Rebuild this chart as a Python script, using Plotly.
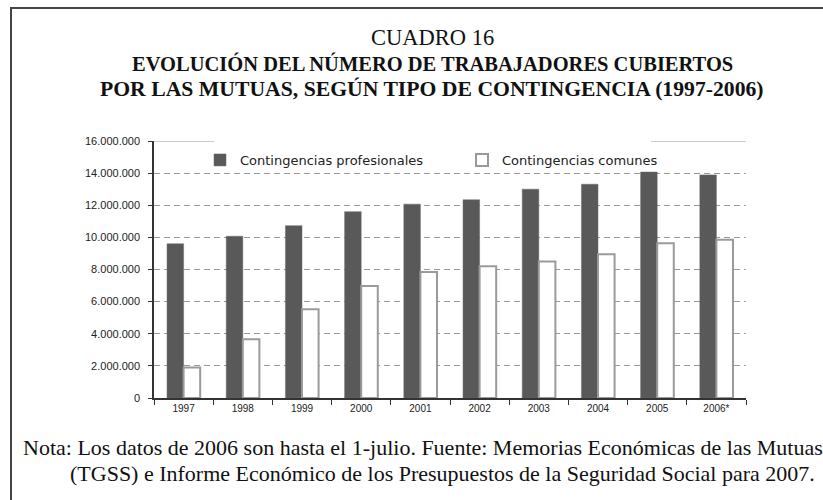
import plotly.graph_objects as go

years = ["1997", "1998", "1999", "2000", "2001", "2002", "2003", "2004", "2005", "2006*"]
profesionales = [9600000, 10070000, 10730000, 11600000, 12070000,
                 12340000, 13000000, 13310000, 14070000, 13890000]
comunes = [1900000, 3650000, 5530000, 6970000, 7840000,
           8210000, 8500000, 8950000, 9630000, 9850000]

W, H = 823, 500
L, R, T, B = 154, 746, 141, 398


def px(x):
    return (x - L) / (R - L)


def py(y):
    return (B - y) / (B - T)


fig = go.Figure()
fig.add_trace(go.Bar(
    x=years, y=profesionales, name="Contingencias profesionales",
    marker=dict(color="#595959", line=dict(color="#6a6a6a", width=0.5)),
))
fig.add_trace(go.Bar(
    x=years, y=comunes, name="Contingencias comunes",
    marker=dict(color="white", line=dict(color="#9a9a9a", width=2)),
))

# top border of the plot area, broken where the legend sits
for x0, x1 in [(0, px(214)), (px(651), 1)]:
    fig.add_shape(type="line", xref="paper", yref="y", x0=x0, x1=x1,
                  y0=16000000, y1=16000000, line=dict(color="#9a9a9a", width=1))

# outer frame
fig.add_shape(type="rect", xref="paper", yref="paper",
              x0=px(11), x1=px(900), y0=py(8), y1=py(600),
              line=dict(color="#444444", width=2), layer="below")

serif = "Liberation Serif"
fig.add_annotation(text="CUADRO 16", x=px(432), y=py(37), xref="paper", yref="paper",
                   showarrow=False, font=dict(family=serif, size=22.5, color="#111"),
                   xanchor="center", yanchor="middle")
fig.add_annotation(text="<b>EVOLUCIÓN DEL NÚMERO DE TRABAJADORES CUBIERTOS</b>",
                   x=px(432), y=py(64), xref="paper", yref="paper", showarrow=False,
                   font=dict(family=serif, size=20.5, color="#111"),
                   xanchor="center", yanchor="middle")
fig.add_annotation(text="<b>POR LAS MUTUAS, SEGÚN TIPO DE CONTINGENCIA (1997-2006)</b>",
                   x=px(432), y=py(89), xref="paper", yref="paper", showarrow=False,
                   font=dict(family=serif, size=21.7, color="#111"),
                   xanchor="center", yanchor="middle")
fig.add_annotation(text="Nota: Los datos de 2006 son hasta el 1-julio. Fuente: Memorias Económicas de las Mutuas",
                   x=px(21), y=py(447), xref="paper", yref="paper", showarrow=False,
                   font=dict(family=serif, size=22, color="#111"),
                   xanchor="left", yanchor="middle")
fig.add_annotation(text="(TGSS) e Informe Económico de los Presupuestos de la Seguridad Social para 2007.",
                   x=px(68), y=py(473), xref="paper", yref="paper", showarrow=False,
                   font=dict(family=serif, size=22, color="#111"),
                   xanchor="left", yanchor="middle")

fig.update_layout(
    width=W, height=H,
    margin=dict(l=L, r=W - R, t=T, b=H - B, pad=0),
    paper_bgcolor="white", plot_bgcolor="white",
    barmode="group", bargap=0.44, bargroupgap=0,
    separators=",.",
    font=dict(family="Liberation Sans", size=11, color="#222"),
    legend=dict(orientation="h", x=px(200), y=py(160), xanchor="left", yanchor="middle",
                bgcolor="rgba(0,0,0,0)", font=dict(family="DejaVu Sans", size=13, color="#222"),
                itemwidth=30, entrywidth=217, tracegroupgap=0),
    showlegend=True,
)
fig.update_yaxes(
    range=[0, 16000000], tickvals=list(range(0, 16000001, 2000000)), tickformat=",d",
    showgrid=True, gridcolor="#9a9a9a", griddash="6px,4px", gridwidth=1,
    showline=True, linecolor="#333", linewidth=1.5,
    ticks="outside", ticklen=4, tickcolor="#333", ticklabelstandoff=6,
    zeroline=False, tickfont=dict(family="Liberation Sans", size=11, color="#222"),
)
fig.update_xaxes(
    type="category", tickson="boundaries", ticks="outside", ticklen=5, tickcolor="#333",
    showline=True, linecolor="#333", linewidth=1.5, showgrid=False,
    tickfont=dict(family="Liberation Sans", size=10, color="#222"),
)

# drop the default 8px page margin so the figure fills the window exactly
fig.write_html("out.html", config={"displayModeBar": False},
               post_script="document.body.style.margin='0';document.documentElement.style.overflow='hidden';")
